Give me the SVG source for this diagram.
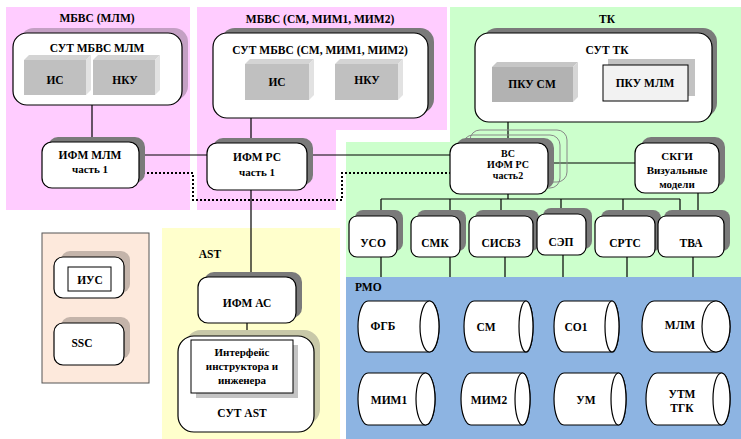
<svg xmlns="http://www.w3.org/2000/svg" width="741" height="439" viewBox="0 0 741 439">
  <style>
    text { font-family: "Liberation Serif", "Times New Roman", serif; font-weight: bold; font-size: 11.5px; fill: #000; text-anchor: middle; }
    .sm { font-size: 11px; }
    .xs { font-size: 10px; }
    .box { fill: #fff; stroke: #000; stroke-width: 1.2; }
    .shd { fill: #7a7a7a; }
    .shl { fill: #c4a0c4; }
    .shp { fill: #c4b4aa; }
    .shy { fill: #c8c8a8; }
    .face { fill: #c0c0c0; }
    .top { fill: #d4d4d4; }
    .side { fill: #e2e2e2; }
    .face2 { fill: #b2b2b2; }
    .top2 { fill: #c6c6c6; }
    .side2 { fill: #d6d6d6; }
    .ln { fill: none; stroke: #000; stroke-width: 1.2; }
    .dot { fill: none; stroke: #000; stroke-width: 2; stroke-dasharray: 2 2; }
    .ghost { fill: none; stroke: #888; stroke-width: 1; }
    .cyl { fill: #fff; stroke: #000; stroke-width: 1.2; }
  </style>

  <!-- zones -->
  <g id="zones">
    <rect x="6" y="7" width="184" height="203" fill="#ffccff"/>
    <path d="M197,7 H447 V130 H336 V210 H197 Z" fill="#ffccff"/>
    <path d="M450,7 H741 V278 H346 V142 H450 Z" fill="#ccffcc"/>
    <rect x="346" y="277" width="395" height="162" fill="#8db4e2"/>
    <rect x="162" y="228" width="178" height="211" fill="#ffffcc"/>
    <rect x="42" y="233" width="107" height="150" fill="#fde9dc" stroke="#555" stroke-width="1"/>
  </g>

  <!-- zone titles -->
  <g id="zone-titles">
    <text x="97" y="22">МБВС (МЛМ)</text>
    <text x="320" y="23">МБВС (СМ, МИМ1, МИМ2)</text>
    <text x="607" y="23">ТК</text>
    <text x="210" y="258">AST</text>
    <text x="355" y="291" style="text-anchor:start">РМО</text>
  </g>

  <!-- connectors -->
  <g id="connectors">
    <path class="ln" d="M92,105 V142"/>
    <path class="ln" d="M251,118 V143"/>
    <path class="ln" d="M139,155 H207"/>
    <path class="ln" d="M307,155 H450"/>
    <path class="ln" d="M251,190 V277"/>
    <path class="ln" d="M247,323 V340"/>
    <path class="ln" d="M508,122 V143"/>
    <path class="ln" d="M548,163 H635"/>
    <path class="ln" d="M508,194 V199 M381,199 H680 M381,199 V216 M450,199 V216 M501,199 V216 M561,199 V214 M623,199 V216 M680,199 V216"/>
    <path class="ln" d="M698,193 V216"/>
    <path class="ln" d="M381,257 V277 M450,257 V277 M505,257 V277 M563,255 V277 M627,257 V277 M693,257 V277"/>
    <path class="dot" d="M139,173 H193 V200 H342 V173 H450"/>
  </g>

  <!-- МБВС (МЛМ) -->
  <g id="sut-mlm">
    <rect class="shl" x="20" y="28" width="168" height="72" rx="14"/>
    <rect class="box" x="13" y="33" width="169" height="72" rx="14"/>
    <text x="97" y="52">СУТ МБВС МЛМ</text>
  </g>
  <g id="is-mlm">
    <polygon class="top" points="24,60 29,55 91,55 86,60"/>
    <polygon class="side" points="86,60 91,55 91,90 86,95"/>
    <rect class="face" x="24" y="60" width="62" height="35"/>
    <text x="55" y="84">ИС</text>
  </g>
  <g id="nku-mlm">
    <polygon class="top" points="93,60 98,55 160,55 155,60"/>
    <polygon class="side" points="155,60 160,55 160,90 155,95"/>
    <rect class="face" x="93" y="60" width="62" height="35"/>
    <text x="125" y="84">НКУ</text>
  </g>
  <g id="ifm-mlm">
    <rect class="shd" x="48" y="137" width="97" height="46" rx="10"/>
    <rect class="box" x="42" y="142" width="97" height="46" rx="10"/>
    <text x="90" y="159">ИФМ МЛМ</text>
    <text x="90" y="173" class="sm">часть 1</text>
  </g>

  <!-- МБВС (СМ, МИМ1, МИМ2) -->
  <g id="sut-sm">
    <rect class="shd" x="221" y="28" width="213" height="85" rx="14"/>
    <rect class="box" x="213" y="33" width="215" height="85" rx="14"/>
    <text x="320" y="54">СУТ МБВС (СМ, МИМ1, МИМ2)</text>
  </g>
  <g id="is-sm">
    <polygon class="top" points="245,64 250,59 314,59 309,64"/>
    <polygon class="side" points="309,64 314,59 314,95 309,100"/>
    <rect class="face" x="245" y="64" width="64" height="36"/>
    <text x="277" y="86">ИС</text>
  </g>
  <g id="nku-sm">
    <polygon class="top" points="335,64 340,59 403,59 398,64"/>
    <polygon class="side" points="398,64 403,59 403,95 398,100"/>
    <rect class="face" x="335" y="64" width="63" height="36"/>
    <text x="367" y="84">НКУ</text>
  </g>
  <g id="ifm-rs1">
    <rect class="shd" x="213" y="138" width="100" height="47" rx="10"/>
    <rect class="box" x="207" y="143" width="100" height="47" rx="10"/>
    <text x="257" y="161">ИФМ РС</text>
    <text x="257" y="176" class="sm">часть 1</text>
  </g>

  <!-- ТК -->
  <g id="sut-tk">
    <rect class="shd" x="483" y="28" width="234" height="89" rx="14"/>
    <rect class="box" x="475" y="33" width="237" height="89" rx="14"/>
    <text x="607" y="54">СУТ ТК</text>
  </g>
  <g id="pku-sm">
    <polygon class="top2" points="492,67 497,62 578,62 573,67"/>
    <polygon class="side2" points="573,67 578,62 578,97 573,102"/>
    <rect class="face2" x="492" y="67" width="81" height="35"/>
    <text x="532" y="88">ПКУ СМ</text>
  </g>
  <g id="pku-mlm">
    <rect x="608" y="59" width="87" height="37" fill="#c2c2c2"/>
    <rect x="603" y="65" width="85" height="36" fill="#f2f2f2" stroke="#000" stroke-width="1"/>
    <text x="645" y="87">ПКУ МЛМ</text>
  </g>
  <g id="vs-ifm-rs2">
    <rect class="ghost" x="470" y="130" width="97" height="52" rx="10"/>
    <rect class="ghost" x="463" y="135" width="97" height="53" rx="10"/>
    <rect class="shd" x="456" y="138" width="98" height="51" rx="10"/>
    <rect class="box" x="450" y="143" width="98" height="51" rx="10"/>
    <text x="508" y="157" class="xs">ВС</text>
    <text x="508" y="168" class="xs">ИФМ РС</text>
    <text x="508" y="179" class="xs">часть2</text>
  </g>
  <g id="skgi">
    <rect class="shd" x="641" y="137" width="84" height="50" rx="10"/>
    <rect class="box" x="635" y="143" width="84" height="50" rx="10"/>
    <text x="677" y="160" class="sm">СКГИ</text>
    <text x="677" y="174" class="sm">Визуальные</text>
    <text x="677" y="188" class="sm">модели</text>
  </g>
  <g id="uso">
    <rect class="shd" x="355" y="210" width="48" height="41" rx="8"/>
    <rect class="box" x="349" y="216" width="48" height="41" rx="8"/>
    <text x="373" y="247">УСО</text>
  </g>
  <g id="smk">
    <rect class="shd" x="417" y="210" width="49" height="41" rx="8"/>
    <rect class="box" x="411" y="216" width="49" height="41" rx="8"/>
    <text x="435" y="247">СМК</text>
  </g>
  <g id="sisbz">
    <rect class="shd" x="475" y="210" width="64" height="41" rx="8"/>
    <rect class="box" x="469" y="216" width="64" height="41" rx="8"/>
    <text x="501" y="247">СИСБЗ</text>
  </g>
  <g id="sep">
    <rect class="shd" x="543" y="208" width="49" height="41" rx="8"/>
    <rect class="box" x="537" y="214" width="49" height="41" rx="8"/>
    <text x="561" y="246">СЭП</text>
  </g>
  <g id="srts">
    <rect class="shd" x="601" y="210" width="60" height="41" rx="8"/>
    <rect class="box" x="595" y="216" width="60" height="41" rx="8"/>
    <text x="625" y="247">СРТС</text>
  </g>
  <g id="tva">
    <rect class="shd" x="664" y="210" width="66" height="41" rx="8"/>
    <rect class="box" x="658" y="216" width="66" height="41" rx="8"/>
    <text x="691" y="247">ТВА</text>
  </g>

  <!-- separate block -->
  <g id="ius">
    <rect class="shp" x="61" y="251" width="69" height="42" rx="9"/>
    <rect class="box" x="54" y="257" width="70" height="41" rx="9"/>
    <rect x="68" y="267" width="43" height="24" fill="#fff" stroke="#000" stroke-width="1"/>
    <text x="90" y="284">ИУС</text>
  </g>
  <g id="ssc">
    <rect class="shp" x="61" y="317" width="69" height="42" rx="9"/>
    <rect class="box" x="54" y="323" width="70" height="42" rx="9"/>
    <text x="82" y="347">SSC</text>
  </g>

  <!-- AST -->
  <g id="ifm-as">
    <rect class="shd" x="204" y="272" width="98" height="46" rx="10"/>
    <rect class="box" x="198" y="277" width="98" height="46" rx="10"/>
    <text x="247" y="307">ИФМ АС</text>
  </g>
  <g id="sut-ast">
    <rect class="shy" x="185" y="330" width="135" height="95" rx="16"/>
    <rect class="box" x="178" y="336" width="136" height="96" rx="16"/>
    <rect x="196" y="345" width="102" height="53" fill="#c4c4c4"/>
    <rect x="191" y="340" width="102" height="53" fill="#fff" stroke="#000" stroke-width="1"/>
    <text x="242" y="356" class="sm">Интерфейс</text>
    <text x="242" y="370" class="sm">инструктора и</text>
    <text x="242" y="384" class="sm">инженера</text>
    <text x="242" y="417">СУТ AST</text>
  </g>

  <!-- РМО stores -->
  <g id="fgb">
    <path class="cyl" d="M368,301 H429.5 A9.5,25.5 0 0 1 429.5,352 H368 A10,25.5 0 0 1 368,301 Z"/>
    <ellipse class="cyl" cx="429.5" cy="326.5" rx="9.5" ry="25.5"/>
    <text x="383" y="330">ФГБ</text>
  </g>
  <g id="sm">
    <path class="cyl" d="M474,301 H526 A7,25.5 0 0 1 526,352 H474 A10,25.5 0 0 1 474,301 Z"/>
    <ellipse class="cyl" cx="526" cy="326.5" rx="7" ry="25.5"/>
    <text x="486" y="331">СМ</text>
  </g>
  <g id="so1">
    <path class="cyl" d="M564,301 H612 A7,25.5 0 0 1 612,352 H564 A10,25.5 0 0 1 564,301 Z"/>
    <ellipse class="cyl" cx="612" cy="326.5" rx="7" ry="25.5"/>
    <text x="576" y="331">СО1</text>
  </g>
  <g id="mlm">
    <path class="cyl" d="M654,301 H716 A14,25.5 0 0 1 716,352 H654 A12,25.5 0 0 1 654,301 Z"/>
    <ellipse class="cyl" cx="716" cy="326.5" rx="14" ry="25.5"/>
    <text x="680" y="329">МЛМ</text>
  </g>
  <g id="mim1">
    <path class="cyl" d="M368,373 H425.5 A9.5,26 0 0 1 425.5,425 H368 A10,26 0 0 1 368,373 Z"/>
    <ellipse class="cyl" cx="425.5" cy="399" rx="9.5" ry="26"/>
    <text x="389" y="404">МИМ1</text>
  </g>
  <g id="mim2">
    <path class="cyl" d="M471,373 H522.5 A7.5,26 0 0 1 522.5,425 H471 A10,26 0 0 1 471,373 Z"/>
    <ellipse class="cyl" cx="522.5" cy="399" rx="7.5" ry="26"/>
    <text x="489" y="404">МИМ2</text>
  </g>
  <g id="um">
    <path class="cyl" d="M564,373 H618.5 A7.5,26 0 0 1 618.5,425 H564 A10,26 0 0 1 564,373 Z"/>
    <ellipse class="cyl" cx="618.5" cy="399" rx="7.5" ry="26"/>
    <text x="586" y="404">УМ</text>
  </g>
  <g id="utm-tgk">
    <path class="cyl" d="M657,373 H721.5 A8.5,26 0 0 1 721.5,425 H657 A11,26 0 0 1 657,373 Z"/>
    <ellipse class="cyl" cx="721.5" cy="399" rx="8.5" ry="26"/>
    <text x="682" y="398">УТМ</text>
    <text x="682" y="412">ТГК</text>
  </g>
</svg>
